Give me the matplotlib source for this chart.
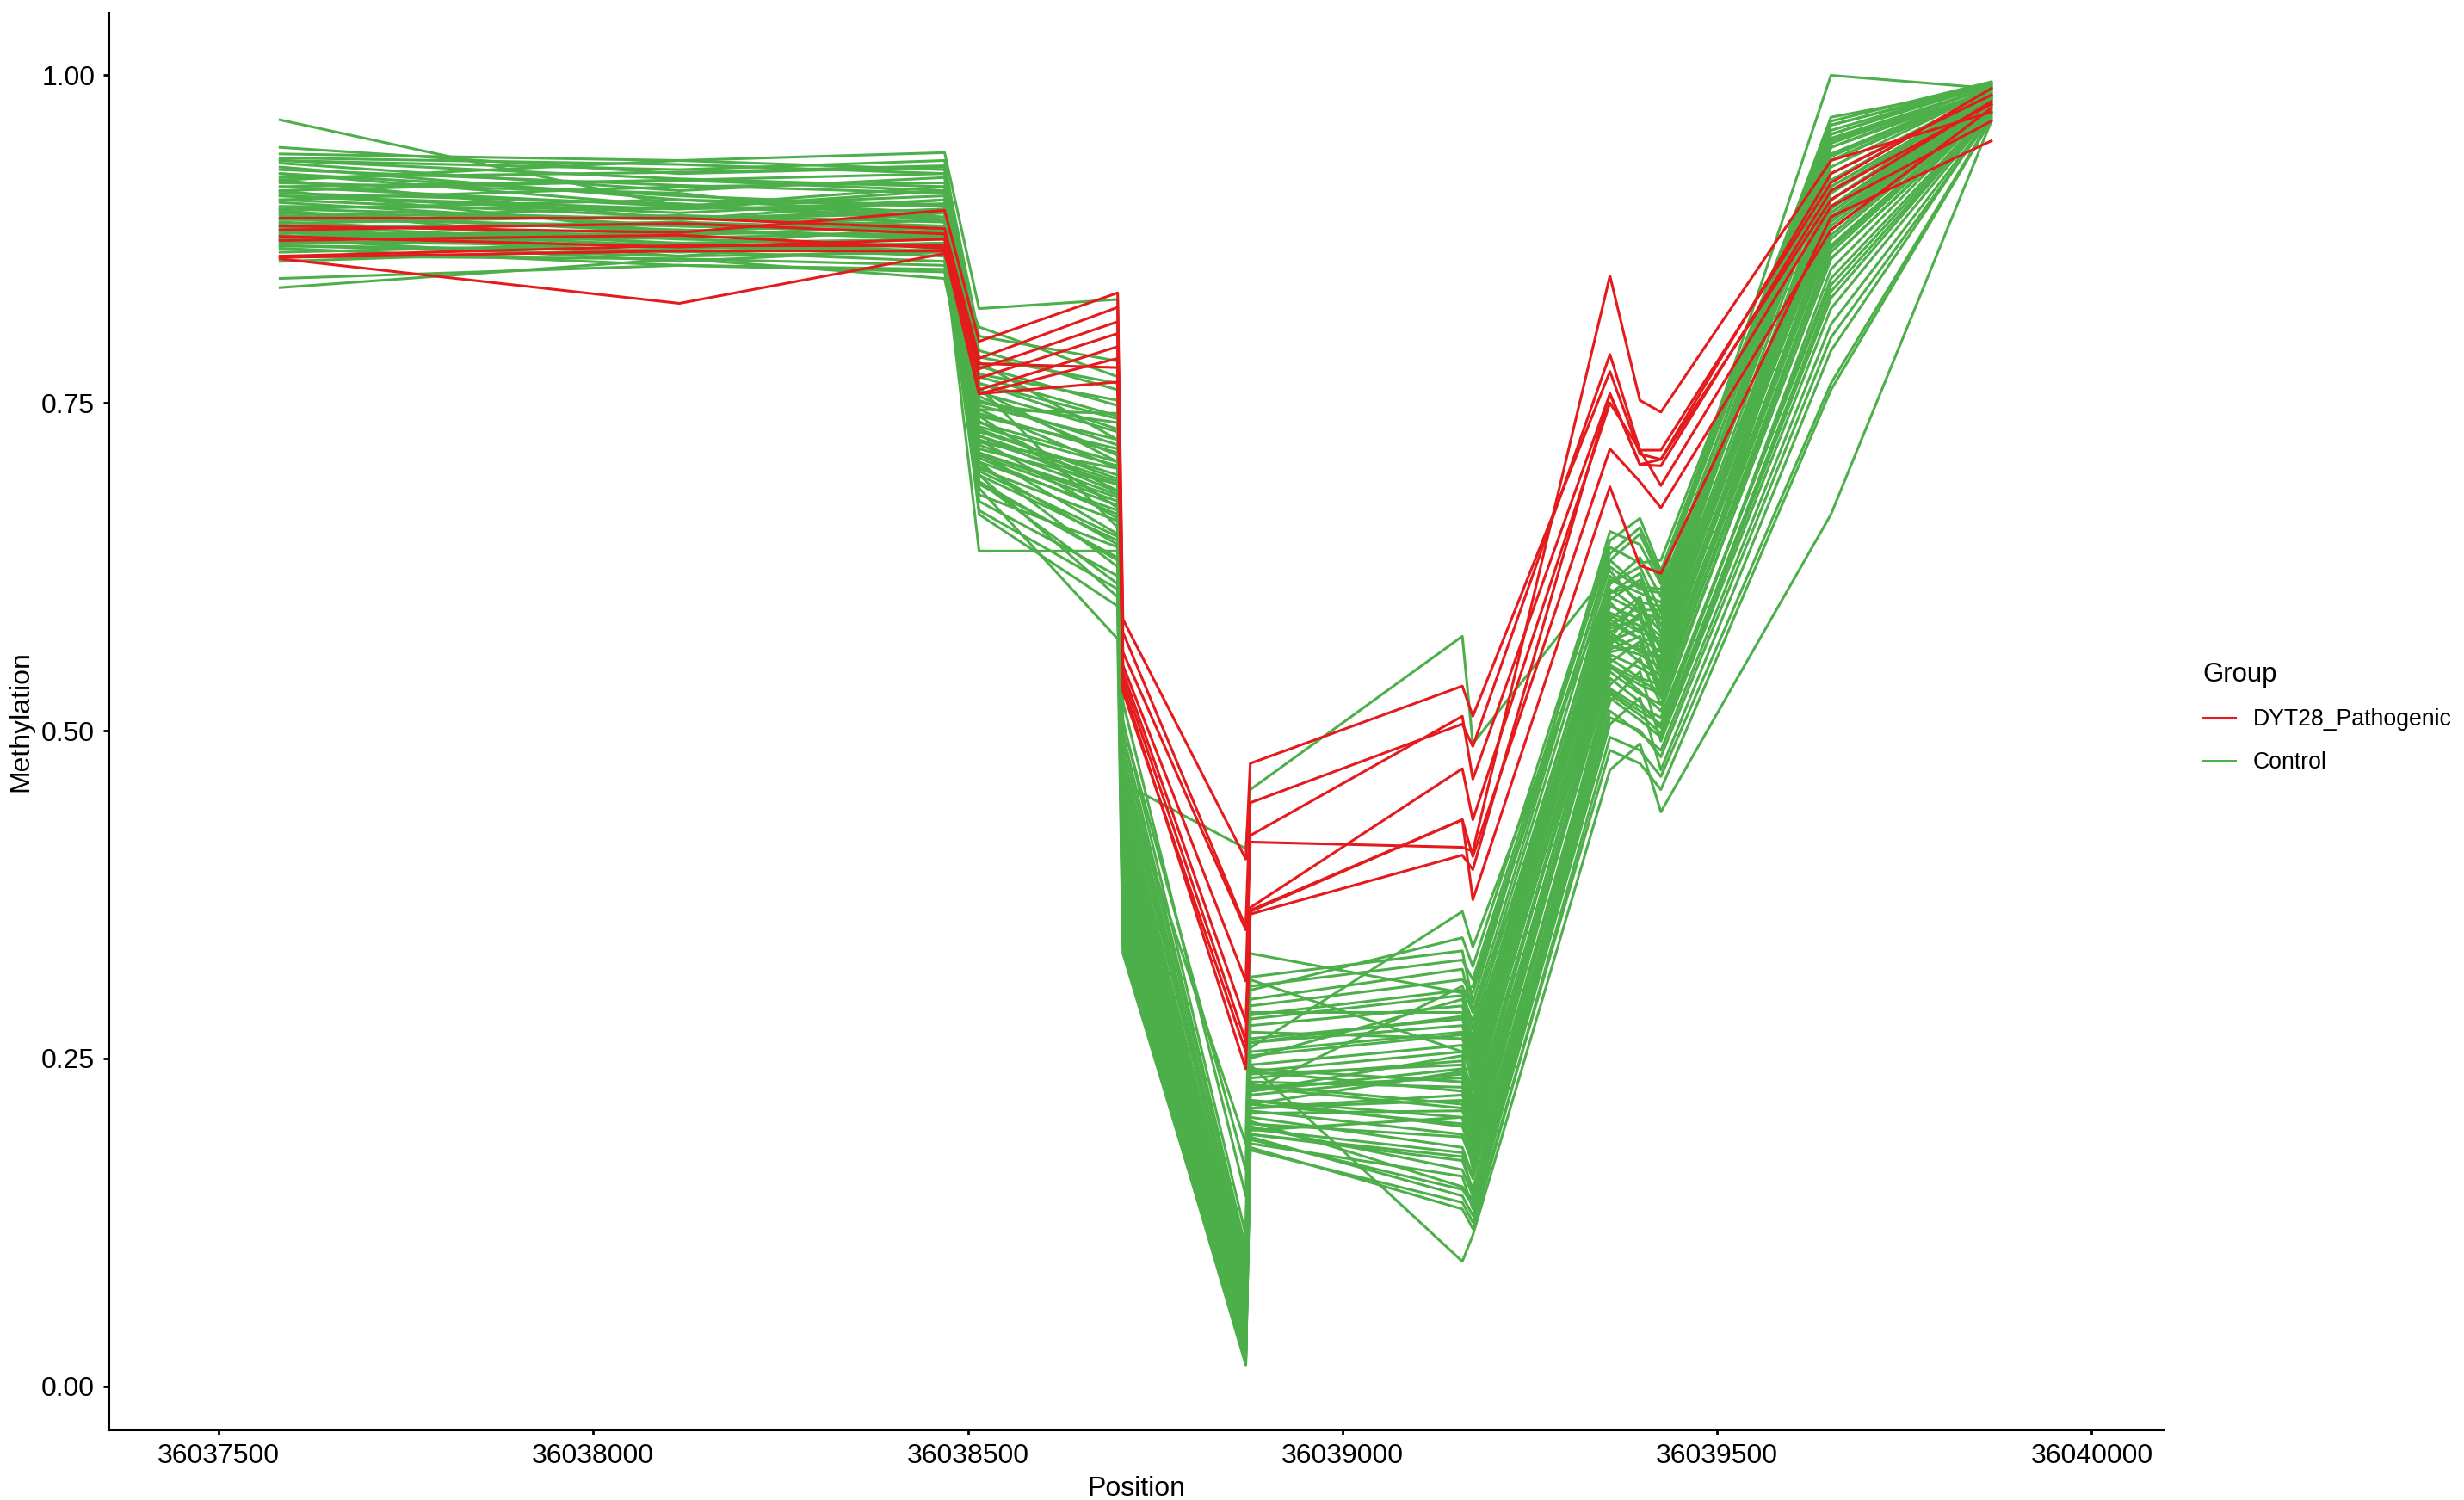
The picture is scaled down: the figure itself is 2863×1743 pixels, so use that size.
import matplotlib
matplotlib.use("Agg")
import matplotlib.pyplot as plt
from matplotlib.lines import Line2D

plt.rcParams['font.family'] = ['Liberation Sans', 'DejaVu Sans']

# CpG positions
positions = [36037582, 36038115, 36038469, 36038515, 36038700, 36038707,
             36038871, 36038877, 36039160, 36039174, 36039357, 36039397,
             36039425, 36039652, 36039866]

# methylation per sample, DYT28 pathogenic
pathogenic = [
    [0.885, 0.880, 0.897, 0.797, 0.834, 0.585, 0.402, 0.475, 0.534, 0.511, 0.774, 0.711, 0.707, 0.925, 0.985],
    [0.891, 0.891, 0.883, 0.784, 0.823, 0.575, 0.350, 0.445, 0.505, 0.488, 0.787, 0.714, 0.714, 0.918, 0.990],
    [0.882, 0.887, 0.879, 0.776, 0.812, 0.560, 0.348, 0.420, 0.511, 0.463, 0.757, 0.703, 0.702, 0.912, 0.978],
    [0.877, 0.869, 0.875, 0.769, 0.803, 0.550, 0.309, 0.415, 0.411, 0.408, 0.847, 0.752, 0.743, 0.935, 0.972],
    [0.874, 0.878, 0.868, 0.760, 0.793, 0.545, 0.278, 0.365, 0.471, 0.432, 0.750, 0.714, 0.687, 0.900, 0.965],
    [0.861, 0.866, 0.866, 0.757, 0.784, 0.540, 0.263, 0.362, 0.432, 0.404, 0.715, 0.690, 0.670, 0.882, 0.975],
    [0.860, 0.826, 0.864, 0.780, 0.777, 0.535, 0.242, 0.360, 0.405, 0.394, 0.757, 0.703, 0.707, 0.905, 0.980],
    [0.862, 0.870, 0.870, 0.757, 0.766, 0.530, 0.255, 0.363, 0.432, 0.371, 0.686, 0.626, 0.620, 0.892, 0.950],
]

# methylation per sample, controls
control = [
    [0.966, 0.900, 0.915, 0.745, 0.700, 0.430, 0.062, 0.225, 0.252, 0.215, 0.585, 0.602, 0.560, 0.925, 0.987],
    [0.945, 0.925, 0.930, 0.762, 0.655, 0.385, 0.048, 0.242, 0.232, 0.190, 0.560, 0.565, 0.530, 0.905, 0.982],
    [0.940, 0.935, 0.941, 0.822, 0.829, 0.460, 0.410, 0.455, 0.572, 0.490, 0.622, 0.595, 0.575, 0.955, 0.995],
    [0.937, 0.932, 0.925, 0.781, 0.722, 0.505, 0.165, 0.302, 0.342, 0.320, 0.645, 0.662, 0.622, 0.968, 0.991],
    [0.935, 0.921, 0.915, 0.702, 0.642, 0.362, 0.031, 0.192, 0.172, 0.150, 0.540, 0.522, 0.502, 0.852, 0.976],
    [0.933, 0.912, 0.922, 0.736, 0.683, 0.442, 0.082, 0.262, 0.282, 0.252, 0.605, 0.612, 0.585, 0.935, 0.988],
    [0.930, 0.905, 0.900, 0.690, 0.612, 0.352, 0.022, 0.202, 0.152, 0.142, 0.522, 0.545, 0.492, 0.822, 0.971],
    [0.928, 0.916, 0.910, 0.772, 0.752, 0.482, 0.092, 0.283, 0.302, 0.272, 0.612, 0.632, 0.602, 0.962, 0.993],
    [0.925, 0.900, 0.896, 0.722, 0.662, 0.402, 0.046, 0.212, 0.222, 0.202, 0.572, 0.552, 0.542, 0.882, 0.980],
    [0.922, 0.926, 0.931, 0.801, 0.782, 0.522, 0.145, 0.312, 0.332, 0.292, 0.652, 0.642, 0.612, 1.000, 0.990],
    [0.920, 0.890, 0.905, 0.760, 0.705, 0.455, 0.070, 0.250, 0.295, 0.265, 0.598, 0.575, 0.590, 0.940, 0.990],
    [0.918, 0.910, 0.888, 0.680, 0.640, 0.375, 0.035, 0.200, 0.190, 0.170, 0.550, 0.530, 0.515, 0.870, 0.978],
    [0.915, 0.920, 0.912, 0.725, 0.690, 0.415, 0.055, 0.230, 0.215, 0.185, 0.565, 0.590, 0.545, 0.900, 0.984],
    [0.912, 0.880, 0.895, 0.750, 0.735, 0.470, 0.085, 0.270, 0.265, 0.240, 0.605, 0.620, 0.580, 0.945, 0.992],
    [0.910, 0.902, 0.890, 0.705, 0.625, 0.340, 0.018, 0.185, 0.160, 0.135, 0.510, 0.500, 0.480, 0.800, 0.968],
    [0.908, 0.895, 0.905, 0.740, 0.670, 0.395, 0.040, 0.215, 0.240, 0.220, 0.575, 0.560, 0.555, 0.890, 0.982],
    [0.905, 0.915, 0.918, 0.790, 0.760, 0.490, 0.100, 0.290, 0.310, 0.300, 0.630, 0.650, 0.615, 0.958, 0.994],
    [0.903, 0.885, 0.880, 0.712, 0.650, 0.365, 0.028, 0.195, 0.205, 0.165, 0.535, 0.555, 0.520, 0.860, 0.975],
    [0.900, 0.898, 0.902, 0.695, 0.602, 0.345, 0.025, 0.190, 0.145, 0.130, 0.505, 0.525, 0.470, 0.790, 0.970],
    [0.898, 0.905, 0.895, 0.755, 0.710, 0.435, 0.068, 0.245, 0.260, 0.230, 0.590, 0.580, 0.565, 0.915, 0.986],
    [0.897, 0.870, 0.885, 0.730, 0.692, 0.410, 0.052, 0.222, 0.238, 0.205, 0.570, 0.600, 0.548, 0.895, 0.983],
    [0.895, 0.890, 0.898, 0.665, 0.595, 0.335, 0.016, 0.182, 0.135, 0.120, 0.495, 0.485, 0.465, 0.765, 0.967],
    [0.893, 0.882, 0.875, 0.745, 0.742, 0.462, 0.088, 0.275, 0.290, 0.262, 0.615, 0.605, 0.598, 0.950, 0.991],
    [0.890, 0.900, 0.892, 0.712, 0.675, 0.390, 0.042, 0.215, 0.200, 0.178, 0.555, 0.540, 0.535, 0.875, 0.979],
    [0.888, 0.875, 0.870, 0.808, 0.770, 0.508, 0.115, 0.305, 0.325, 0.310, 0.640, 0.628, 0.630, 0.965, 0.995],
    [0.887, 0.893, 0.888, 0.688, 0.632, 0.370, 0.033, 0.205, 0.182, 0.160, 0.530, 0.515, 0.505, 0.845, 0.974],
    [0.885, 0.862, 0.878, 0.720, 0.700, 0.425, 0.058, 0.235, 0.248, 0.225, 0.582, 0.570, 0.560, 0.910, 0.985],
    [0.883, 0.888, 0.882, 0.758, 0.728, 0.448, 0.075, 0.255, 0.270, 0.245, 0.600, 0.615, 0.575, 0.930, 0.989],
    [0.882, 0.870, 0.865, 0.675, 0.618, 0.355, 0.024, 0.192, 0.175, 0.148, 0.525, 0.508, 0.495, 0.830, 0.972],
    [0.880, 0.878, 0.885, 0.740, 0.715, 0.438, 0.065, 0.240, 0.225, 0.198, 0.578, 0.585, 0.552, 0.905, 0.984],
    [0.878, 0.865, 0.872, 0.698, 0.648, 0.380, 0.038, 0.208, 0.210, 0.188, 0.548, 0.535, 0.528, 0.865, 0.977],
    [0.877, 0.882, 0.876, 0.770, 0.740, 0.470, 0.095, 0.285, 0.285, 0.258, 0.618, 0.598, 0.595, 0.948, 0.992],
    [0.875, 0.858, 0.868, 0.715, 0.688, 0.405, 0.050, 0.225, 0.242, 0.210, 0.568, 0.578, 0.540, 0.885, 0.981],
    [0.873, 0.870, 0.862, 0.637, 0.637, 0.360, 0.080, 0.245, 0.095, 0.115, 0.470, 0.490, 0.438, 0.665, 0.965],
    [0.872, 0.876, 0.880, 0.728, 0.695, 0.420, 0.060, 0.232, 0.228, 0.206, 0.572, 0.562, 0.557, 0.895, 0.983],
    [0.870, 0.866, 0.858, 0.700, 0.660, 0.392, 0.044, 0.218, 0.198, 0.176, 0.545, 0.528, 0.520, 0.860, 0.976],
    [0.868, 0.855, 0.852, 0.765, 0.730, 0.455, 0.078, 0.262, 0.275, 0.248, 0.602, 0.590, 0.585, 0.935, 0.990],
    [0.865, 0.872, 0.866, 0.685, 0.570, 0.330, 0.020, 0.180, 0.140, 0.125, 0.485, 0.475, 0.455, 0.760, 0.966],
    [0.862, 0.860, 0.855, 0.742, 0.712, 0.432, 0.066, 0.240, 0.255, 0.235, 0.588, 0.575, 0.570, 0.915, 0.986],
    [0.858, 0.868, 0.870, 0.710, 0.672, 0.398, 0.047, 0.212, 0.218, 0.195, 0.558, 0.548, 0.538, 0.878, 0.980],
    [0.845, 0.855, 0.850, 0.695, 0.645, 0.372, 0.036, 0.196, 0.178, 0.158, 0.532, 0.518, 0.510, 0.840, 0.973],
    [0.838, 0.860, 0.845, 0.725, 0.682, 0.412, 0.054, 0.228, 0.235, 0.208, 0.565, 0.558, 0.548, 0.892, 0.982],
    [0.935, 0.928, 0.935, 0.785, 0.765, 0.498, 0.105, 0.295, 0.318, 0.285, 0.635, 0.655, 0.618, 0.962, 0.994],
    [0.925, 0.908, 0.900, 0.735, 0.705, 0.440, 0.072, 0.252, 0.268, 0.238, 0.595, 0.585, 0.572, 0.920, 0.987],
    [0.915, 0.900, 0.908, 0.705, 0.668, 0.388, 0.040, 0.210, 0.192, 0.172, 0.552, 0.568, 0.525, 0.870, 0.978],
    [0.905, 0.892, 0.885, 0.748, 0.722, 0.450, 0.082, 0.265, 0.280, 0.255, 0.608, 0.592, 0.592, 0.938, 0.990],
    [0.895, 0.880, 0.890, 0.718, 0.680, 0.418, 0.056, 0.228, 0.212, 0.190, 0.562, 0.572, 0.532, 0.888, 0.981],
    [0.890, 0.885, 0.880, 0.690, 0.630, 0.358, 0.027, 0.198, 0.165, 0.145, 0.528, 0.512, 0.498, 0.835, 0.972],
    [0.885, 0.872, 0.875, 0.778, 0.748, 0.478, 0.090, 0.280, 0.298, 0.278, 0.625, 0.608, 0.605, 0.955, 0.993],
    [0.880, 0.868, 0.872, 0.708, 0.665, 0.395, 0.043, 0.218, 0.205, 0.182, 0.550, 0.538, 0.530, 0.868, 0.977],
    [0.875, 0.880, 0.878, 0.732, 0.702, 0.425, 0.063, 0.238, 0.245, 0.218, 0.580, 0.595, 0.562, 0.905, 0.985],
    [0.870, 0.862, 0.865, 0.668, 0.608, 0.348, 0.022, 0.188, 0.150, 0.138, 0.515, 0.498, 0.485, 0.810, 0.969],
    [0.912, 0.920, 0.925, 0.752, 0.718, 0.445, 0.075, 0.258, 0.362, 0.335, 0.612, 0.625, 0.590, 0.945, 0.989],
    [0.898, 0.890, 0.895, 0.722, 0.688, 0.408, 0.051, 0.225, 0.305, 0.285, 0.575, 0.588, 0.550, 0.898, 0.983],
    [0.920, 0.935, 0.928, 0.765, 0.738, 0.465, 0.185, 0.330, 0.300, 0.305, 0.630, 0.610, 0.608, 0.952, 0.991],
    [0.908, 0.898, 0.912, 0.712, 0.678, 0.415, 0.057, 0.310, 0.255, 0.268, 0.585, 0.570, 0.568, 0.912, 0.985],
]

red = "#E41A1C"
green = "#4DAF4A"

fig = plt.figure(figsize=(14.315, 8.715), dpi=200)
ax = fig.add_axes([0.0440, 0.0470, 0.8341, 0.9444])

for row in control:
    ax.plot(positions, row, color=green, lw=1.1)
for row in pathogenic:
    ax.plot(positions, row, color=red, lw=1.1)

ax.set_xlim(36037353, 36040096)
ax.set_ylim(-0.0332, 1.0476)
ax.set_xticks([36037500, 36038000, 36038500, 36039000, 36039500, 36040000])
ax.set_xticklabels(["36037500", "36038000", "36038500", "36039000", "36039500", "36040000"])
ax.set_yticks([0, 0.25, 0.5, 0.75, 1.0])
ax.set_yticklabels(["0.00", "0.25", "0.50", "0.75", "1.00"])

for s in ["top", "right"]:
    ax.spines[s].set_visible(False)
for s in ["left", "bottom"]:
    ax.spines[s].set_linewidth(1.1)
ax.tick_params(axis="both", length=2.2, width=1.0, labelsize=11.5, pad=3.5, colors="black")

ax.set_xlabel("Position", fontsize=11.5, labelpad=3)
ax.set_ylabel("Methylation", fontsize=11.5, labelpad=3)

handles = [Line2D([], [], color=red, lw=1.1), Line2D([], [], color=green, lw=1.1)]
leg = fig.legend(handles, ["DYT28_Pathogenic", "Control"], title="Group",
                 loc="center left", bbox_to_anchor=(0.8828, 0.5215), frameon=False,
                 fontsize=9.6, title_fontsize=11.2, handlelength=1.4,
                 handletextpad=0.8, labelspacing=0.9, borderpad=0.7,
                 alignment="left")

fig.savefig("out.png", dpi=200)
